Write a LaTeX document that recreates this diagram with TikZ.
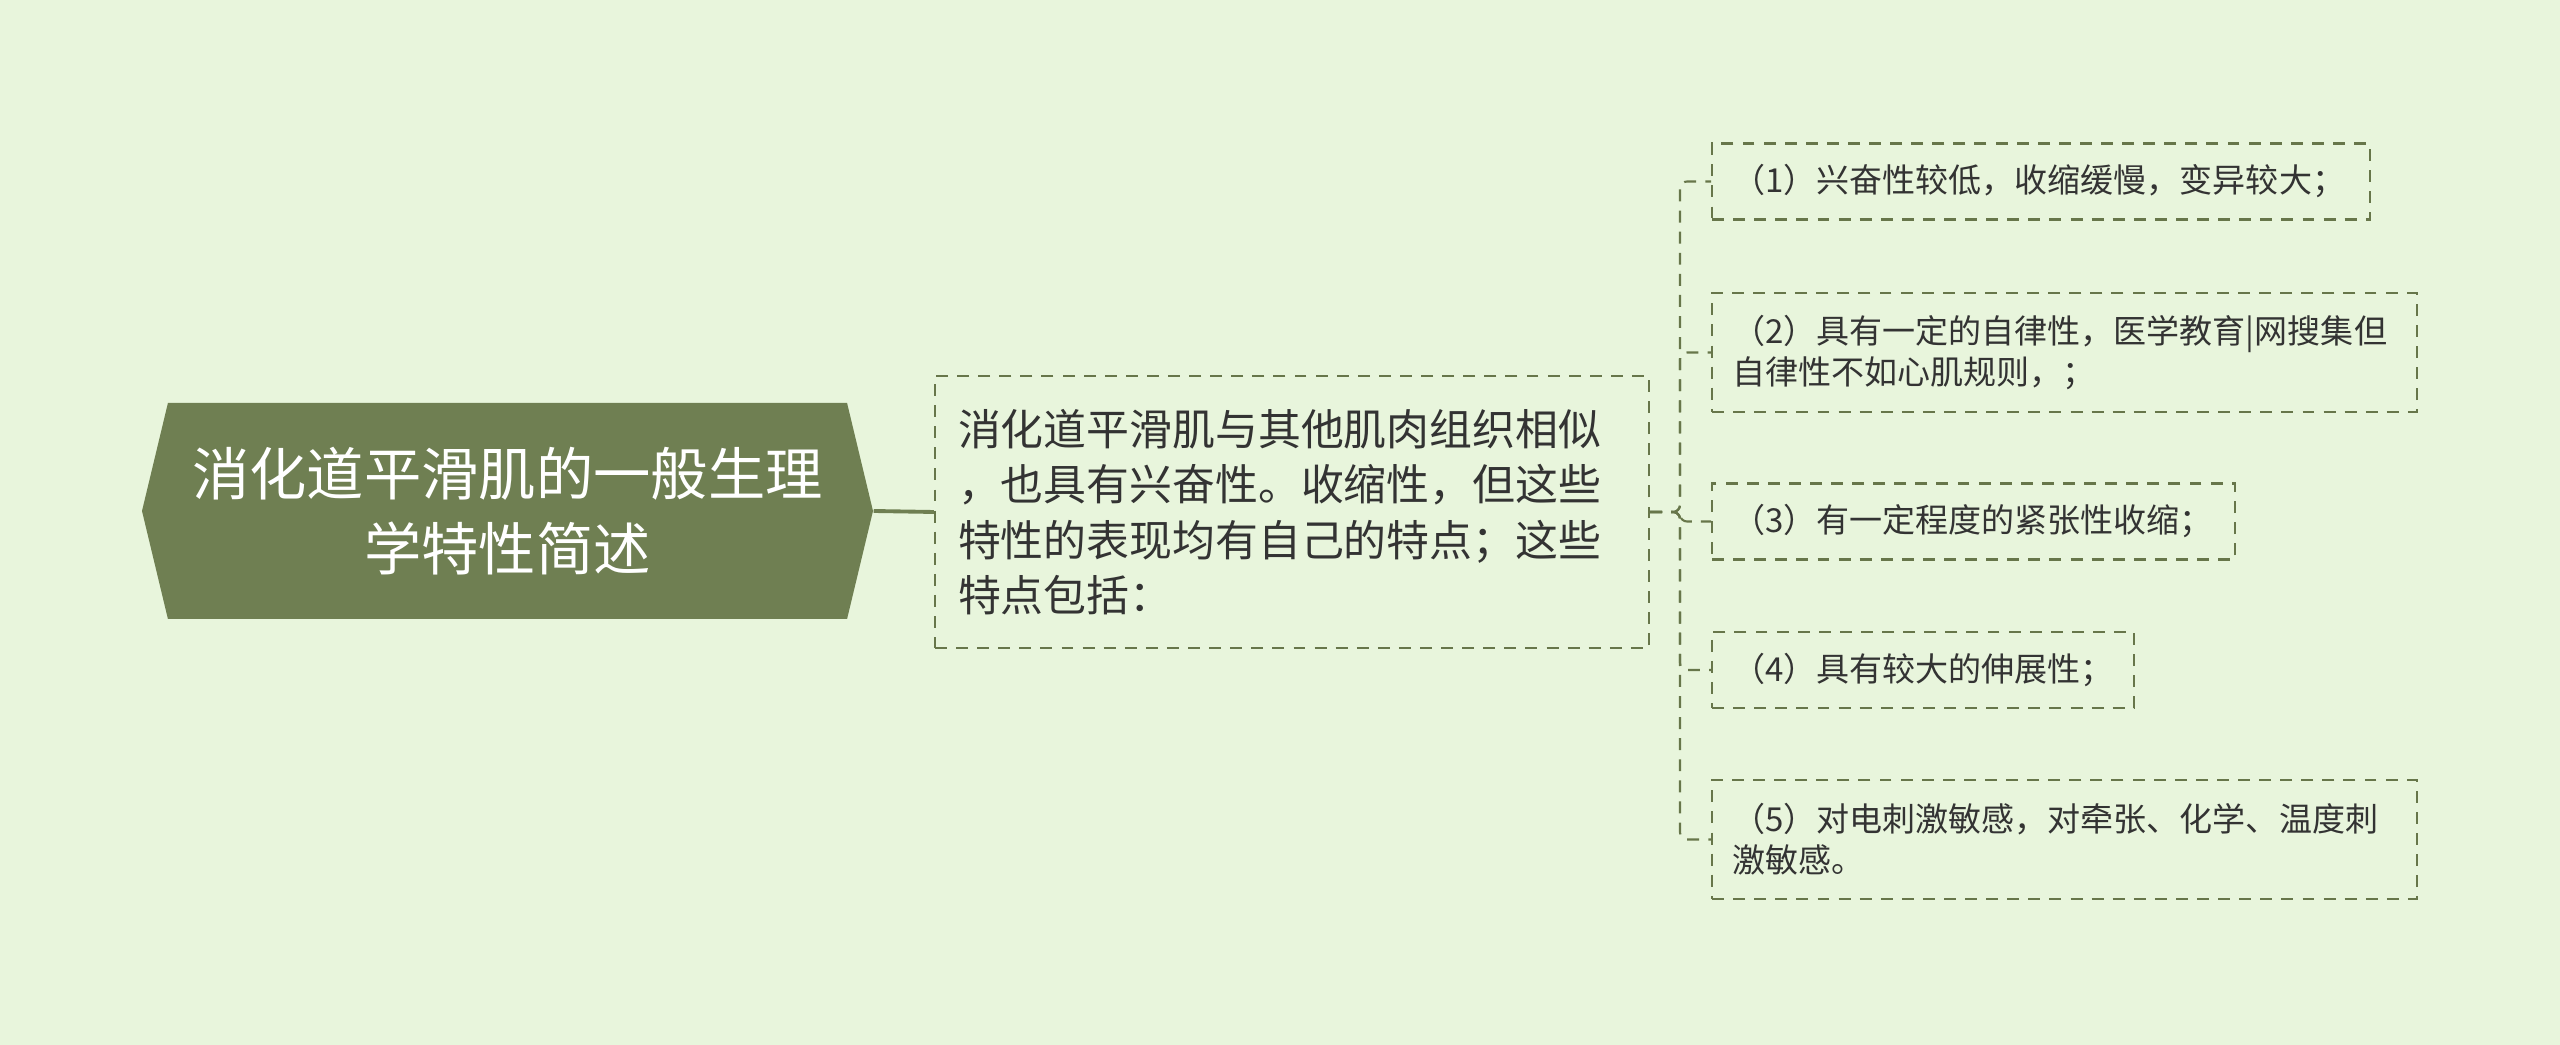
\documentclass[tikz,border=0pt]{standalone}
\usepackage{fontspec}
\setmainfont{Noto Sans CJK SC}
\usetikzlibrary{shapes.symbols}
\definecolor{bgcol}{HTML}{E8F5DC}
\definecolor{rootgreen}{HTML}{6F7F52}
\definecolor{edgecol}{HTML}{67764A}
\definecolor{txtcol}{HTML}{333333}
\tikzset{
  rootbox/.style={signal, signal to=east and west, signal pointer angle=153,
    fill=rootgreen, text=white, font=\fontsize{16.3}{21.3}\selectfont,
    align=center, minimum width=7.31cm, minimum height=2.16cm, inner sep=0pt},
  dashline/.style={draw=edgecol, dash pattern=on 3.4pt off 2.6pt, line width=0.6pt},
  midbox/.style={dashline, text=txtcol, font=\fontsize{12.2}{15.8}\selectfont,
    align=left, text width=6.68cm, minimum height=2.72cm, inner xsep=0.23cm},
  leafbox/.style={dashline, text=txtcol, font=\fontsize{9.4}{11.6}\selectfont,
    align=left, anchor=west, inner xsep=0.2cm, minimum height=0.76cm},
  link/.style={dashline, rounded corners=2pt},
}
\begin{document}
\begin{tikzpicture}
  \fill[bgcol] (0,0) rectangle (25.6,10.45);
  \useasboundingbox (0,0) rectangle (25.6,10.45);

  \node[rootbox] (root) at (5.075,5.34) {消化道平滑肌的一般生理\\学特性简述};
  \node[midbox] (mid) at (12.92,5.33) {消化道平滑肌与其他肌肉组织相似\\，也具有兴奋性。收缩性，但这些\\特性的表现均有自己的特点；这些\\特点包括：};

  \node[leafbox, text width=6.18cm] (c1) at (17.11,8.635) {（1）兴奋性较低，收缩缓慢，变异较大；};
  \node[leafbox, text width=6.65cm, minimum height=1.19cm] (c2) at (17.11,6.925) {（2）具有一定的自律性，医学教育|网搜集但\\自律性不如心肌规则，；};
  \node[leafbox, text width=4.83cm] (c3) at (17.11,5.235) {（3）有一定程度的紧张性收缩；};
  \node[leafbox, text width=3.82cm] (c4) at (17.11,3.75) {（4）具有较大的伸展性；};
  \node[leafbox, text width=6.65cm, minimum height=1.19cm] (c5) at (17.11,2.055) {（5）对电刺激敏感，对牵张、化学、温度刺\\激敏感。};

  \draw[rootgreen, line width=1.1pt] (root.east) -- (mid.west);
  \coordinate (trunk) at (16.80,5.33);
  \foreach \c in {c1,c2,c3,c4,c5}
    \draw[link] (mid.east) -- (trunk) |- (\c.west);
\end{tikzpicture}
\end{document}
